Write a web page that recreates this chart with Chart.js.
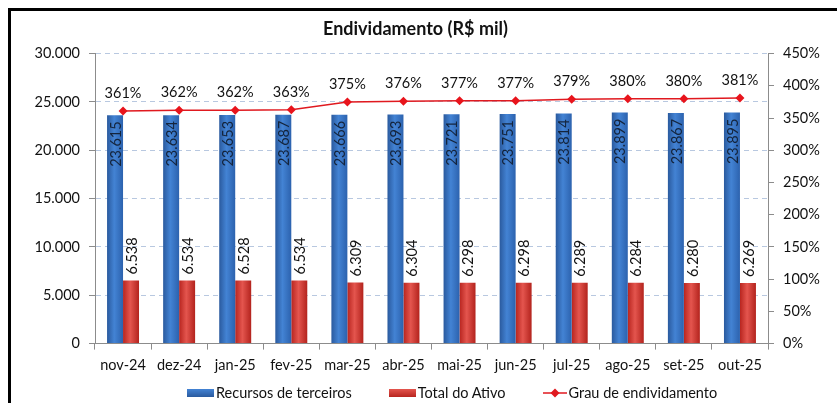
<!DOCTYPE html>
<html>
<head>
<meta charset="utf-8">
<script src="https://cdn.jsdelivr.net/npm/chart.js@4"></script>
<style>
  html, body { margin: 0; padding: 0; background: #fff; overflow: hidden; }
  #frame {
    position: absolute; left: 8px; top: 8px; width: 900px; height: 500px;
    border-left: 3px solid #000; border-top: 3px solid #000;
  }
  #wrap { position: absolute; left: 0; top: 0; width: 820px; height: 403px; }
  #legend {
    position: absolute; left: 187px; top: 384px; display: flex; align-items: center;
    font: 14.5px Lato, "Open Sans", sans-serif; color: #111; white-space: nowrap;
  }
  #legend .item { display: flex; align-items: center; margin-right: 37px; }
  #legend .item:last-child { margin-right: 0; }
  #legend .sw { width: 27px; height: 8px; margin-right: 2px; }
  #legend .blue { background: linear-gradient(#4383D4, #2A5A9E); }
  #legend .red { background: linear-gradient(#E4554E, #B8251F); }
  #legend svg { margin-right: 2px; }
</style>
</head>
<body>
<div id="frame"></div>
<div id="wrap"><canvas id="chart"></canvas></div>
<div id="legend"></div>
<script>
// Data
const months = ['nov-24', 'dez-24', 'jan-25', 'fev-25', 'mar-25', 'abr-25', 'mai-25', 'jun-25', 'jul-25', 'ago-25', 'set-25', 'out-25'];
const recursosTerceiros = [23615, 23634, 23653, 23687, 23666, 23693, 23721, 23751, 23814, 23899, 23867, 23895];
const totalAtivo = [6538, 6534, 6528, 6534, 6309, 6304, 6298, 6298, 6289, 6284, 6280, 6269];
const grauEndividamento = [361, 362, 362, 363, 375, 376, 377, 377, 379, 380, 380, 381];
const seriesNames = ['Recursos de terceiros', 'Total do Ativo', 'Grau de endividamento'];

const FONT = 'Lato, "Open Sans", sans-serif';
const FS = 14.5;

function fmtThousands(v) {
    return String(Math.round(v)).replace(/\B(?=(\d{3})+(?!\d))/g, '.');
}

// Cylinder-like horizontal gradient for each bar
function barGradient(ctx, stops) {
    const chart = ctx.chart;
    const meta = chart.getDatasetMeta(ctx.datasetIndex);
    const el = meta.data[ctx.dataIndex];
    if (!el || el.x == null || !el.width) return stops[1];
    const x0 = el.x - el.width / 2;
    const g = chart.ctx.createLinearGradient(x0, 0, x0 + el.width, 0);
    g.addColorStop(0, stops[0]);
    g.addColorStop(0.45, stops[1]);
    g.addColorStop(1, stops[2]);
    return g;
}
const blueStops = ['#2A5A9E', '#4383D4', '#2C62AE'];
const redStops = ['#B8251F', '#E4554E', '#B3231D'];

// Value labels
const valueLabels = {
    id: 'valueLabels',
    afterDatasetsDraw(chart) {
        const ctx = chart.ctx;
        ctx.save();
        ctx.font = FS + 'px ' + FONT;
        ctx.fillStyle = '#111';
        ctx.textBaseline = 'middle';
        chart.getDatasetMeta(0).data.forEach((el, i) => {
            ctx.save();
            ctx.translate(el.x, el.y + 6);
            ctx.rotate(-Math.PI / 2);
            ctx.textAlign = 'right';
            ctx.fillStyle = '#14243C';
            ctx.fillText(fmtThousands(recursosTerceiros[i]), 0, 1);
            ctx.restore();
        });
        chart.getDatasetMeta(1).data.forEach((el, i) => {
            ctx.save();
            ctx.translate(el.x, el.y - 6);
            ctx.rotate(-Math.PI / 2);
            ctx.textAlign = 'left';
            ctx.fillText(fmtThousands(totalAtivo[i]), 0, 1);
            ctx.restore();
        });
        ctx.textAlign = 'center';
        ctx.textBaseline = 'alphabetic';
        chart.getDatasetMeta(2).data.forEach((el, i) => {
            ctx.fillText(grauEndividamento[i] + '%', el.x, el.y - 13);
        });
        ctx.restore();
    }
};

const axisGray = '#8C8C8C';

const chart = new Chart(document.getElementById('chart'), {
    type: 'bar',
    data: {
        labels: months,
        datasets: [
            {
                label: seriesNames[0],
                data: recursosTerceiros,
                backgroundColor: c => barGradient(c, blueStops),
                yAxisID: 'y',
                order: 2
            },
            {
                label: seriesNames[1],
                data: totalAtivo,
                backgroundColor: c => barGradient(c, redStops),
                yAxisID: 'y',
                order: 2
            },
            {
                type: 'line',
                label: seriesNames[2],
                data: grauEndividamento,
                borderColor: '#E0191F',
                backgroundColor: '#E0191F',
                borderWidth: 1.5,
                pointStyle: 'rectRot',
                pointRadius: 4.5,
                pointBackgroundColor: '#E8141C',
                pointBorderWidth: 0,
                yAxisID: 'y1',
                order: 1
            }
        ]
    },
    options: {
        responsive: true,
        maintainAspectRatio: false,
        animation: false,
        datasets: { bar: { categoryPercentage: 0.57, barPercentage: 1 } },
        layout: { padding: { left: 11, right: 0, top: 8, bottom: 22 } },
        plugins: {
            title: {
                display: true,
                text: 'Endividamento (R$ mil)',
                color: '#111',
                font: { family: FONT, size: 18, weight: 'bold' },
                padding: { top: 10, bottom: 14 }
            },
            legend: { display: false },
            tooltip: { enabled: false }
        },
        scales: {
            x: {
                offset: true,
                grid: { offset: true, drawOnChartArea: false, color: axisGray, tickLength: 6 },
                border: { color: axisGray },
                ticks: { color: '#111', font: { family: FONT, size: FS }, padding: 7, maxRotation: 0 }
            },
            y: {
                position: 'left',
                min: 0, max: 30000,
                afterFit: s => { s.width = 84; },
                grid: { color: '#B8C8E0', tickColor: axisGray, tickLength: 6, tickBorderDash: [] },
                border: { color: axisGray, dash: [5, 4] },
                ticks: {
                    stepSize: 5000, padding: 9, color: '#111',
                    font: { family: FONT, size: FS },
                    callback: v => fmtThousands(v)
                }
            },
            y1: {
                position: 'right',
                min: 0, max: 450,
                afterFit: s => { s.width = 52; },
                grid: { drawOnChartArea: false, color: axisGray, tickLength: 6 },
                border: { color: axisGray },
                ticks: {
                    stepSize: 50, padding: 9, color: '#111',
                    font: { family: FONT, size: FS },
                    callback: v => v + '%'
                }
            }
        }
    },
    plugins: [valueLabels]
});
// second pass so the gradients know each bar's position
chart.update();

// HTML legend
const legendEl = document.getElementById('legend');
const swatches = [
    '<span class="sw blue"></span>',
    '<span class="sw red"></span>',
    '<svg width="24" height="10"><line x1="0" y1="5" x2="24" y2="5" stroke="#E0191F" stroke-width="1.5"/>' +
    '<polygon points="12,0.5 16.5,5 12,9.5 7.5,5" fill="#E0191F"/></svg>'
];
seriesNames.forEach((name, i) => {
    const item = document.createElement('span');
    item.className = 'item';
    item.innerHTML = swatches[i] + '<span>' + name + '</span>';
    legendEl.appendChild(item);
});
</script>
</body>
</html>
